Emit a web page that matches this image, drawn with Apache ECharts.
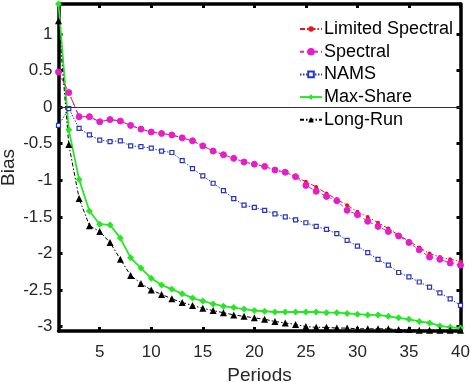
<!DOCTYPE html>
<html><head><meta charset="utf-8">
<script src="https://cdn.jsdelivr.net/npm/echarts@6/dist/echarts.min.js"></script>
<style>html,body{margin:0;padding:0;background:#fff}#c{width:471px;height:382px}</style>
</head><body><div id="c"></div>
<script>
const periods = Array.from({length: 40}, (_, i) => i + 1);
const xTicks = [5, 10, 15, 20, 25, 30, 35, 40];
const yTicks = [-3, -2.5, -2, -1.5, -1, -0.5, 0, 0.5, 1];
const seriesNames = ['Limited Spectral', 'Spectral', 'NAMS', 'Max-Share', 'Long-Run'];

const limitedSpectral = [0.48,0.20,-0.13,-0.13,-0.20,-0.17,-0.19,-0.25,-0.30,-0.34,
  -0.36,-0.38,-0.42,-0.46,-0.53,-0.60,-0.65,-0.70,-0.75,-0.78,
  -0.81,-0.86,-0.89,-0.95,-1.02,-1.09,-1.18,-1.26,-1.34,-1.43,
  -1.50,-1.58,-1.66,-1.75,-1.83,-1.92,-2.00,-2.05,-2.08,-2.11];
const spectral = [0.48,0.20,-0.13,-0.13,-0.20,-0.17,-0.19,-0.25,-0.30,-0.34,
  -0.36,-0.38,-0.42,-0.46,-0.53,-0.60,-0.65,-0.70,-0.75,-0.78,
  -0.81,-0.86,-0.89,-0.95,-1.07,-1.15,-1.22,-1.28,-1.41,-1.47,
  -1.56,-1.63,-1.70,-1.76,-1.85,-1.95,-2.05,-2.08,-2.13,-2.16];
const nams = [-0.25,-0.02,-0.29,-0.38,-0.45,-0.47,-0.46,-0.53,-0.54,-0.56,
  -0.60,-0.62,-0.73,-0.84,-0.94,-1.04,-1.14,-1.25,-1.34,-1.37,
  -1.41,-1.46,-1.50,-1.54,-1.58,-1.63,-1.67,-1.73,-1.82,-1.90,
  -1.99,-2.08,-2.16,-2.26,-2.32,-2.39,-2.46,-2.54,-2.62,-2.71];
const maxShare = [1.41,-0.31,-0.99,-1.42,-1.60,-1.61,-1.79,-2.06,-2.20,-2.34,
  -2.43,-2.49,-2.55,-2.61,-2.65,-2.69,-2.72,-2.74,-2.76,-2.78,
  -2.79,-2.80,-2.80,-2.80,-2.80,-2.80,-2.81,-2.81,-2.82,-2.83,
  -2.84,-2.84,-2.86,-2.88,-2.90,-2.93,-2.95,-2.99,-3.01,-3.02];
const longRun = [1.18,-0.51,-1.25,-1.62,-1.70,-1.85,-2.08,-2.30,-2.41,-2.50,
  -2.56,-2.62,-2.67,-2.71,-2.75,-2.78,-2.81,-2.84,-2.86,-2.88,
  -2.90,-2.93,-2.95,-2.97,-3.00,-3.01,-3.01,-3.02,-3.02,-3.03,
  -3.03,-3.03,-3.03,-3.04,-3.04,-3.05,-3.05,-3.05,-3.05,-3.05];

const pair = arr => periods.map((p, i) => [p, arr[i]]);
const FONT = 'Liberation Sans';
const TXT = '#262626';
const X_MIN = 1, X_MAX = 40, Y_MIN = -3.06, Y_MAX = 1.41;

function xAx(pos, labels) {
  return {
    type: 'value', position: pos, min: X_MIN, max: X_MAX,
    axisLine: {show: true, onZero: false, lineStyle: {color: '#000', width: 3.5}},
    axisTick: {show: true, inside: true, length: 4, customValues: xTicks, lineStyle: {color: '#000', width: 3}},
    axisLabel: {show: labels, customValues: xTicks, fontFamily: FONT, fontSize: 17, color: TXT, margin: 13},
    splitLine: {show: false},
    name: labels ? 'Periods' : '', nameLocation: 'middle', nameGap: 34,
    nameTextStyle: {fontFamily: FONT, fontSize: 19, color: TXT}
  };
}
function yAx(pos, labels) {
  return {
    type: 'value', position: pos, min: Y_MIN, max: Y_MAX,
    axisLine: {show: true, onZero: false, lineStyle: {color: '#000', width: 3.5}},
    axisTick: {show: true, inside: true, length: 4, customValues: yTicks, lineStyle: {color: '#000', width: 3}},
    axisLabel: {show: labels, customValues: yTicks, fontFamily: FONT, fontSize: 17, color: TXT, margin: 6},
    splitLine: {show: false},
    name: labels ? 'Bias' : '', nameLocation: 'middle', nameGap: 40, nameRotate: 90,
    nameMoveOverlap: false,
    nameTextStyle: {fontFamily: FONT, fontSize: 19, color: TXT}
  };
}

const chart = echarts.init(document.getElementById('c'), null, {renderer: 'canvas'});
chart.setOption({
  animation: false,
  backgroundColor: '#fff',
  grid: {left: 58.5, right: 10.5, top: 4, bottom: 51, containLabel: false, outerBoundsMode: 'none'},
  xAxis: [xAx('bottom', true), xAx('top', false)],
  yAxis: [yAx('left', true), yAx('right', false)],
  legend: {
    orient: 'vertical', left: 294, top: 15,
    itemWidth: 22, itemHeight: 7, itemGap: 4.7,
    textStyle: {fontFamily: FONT, fontSize: 18, color: '#000', lineHeight: 18, padding: [0, 0, 0, -3]},
    data: seriesNames
  },
  series: [
    {
      name: seriesNames[0], type: 'line', data: pair(limitedSpectral), z: 3,
      symbol: 'circle', symbolSize: 4,
      lineStyle: {color: '#e8141e', width: 1, type: [5, 2, 1.5, 2]},
      itemStyle: {color: '#e8141e'},
      markLine: {
        silent: true, symbol: 'none', label: {show: false},
        lineStyle: {color: '#333', width: 1, type: 'solid'},
        data: [{yAxis: 0}]
      }
    },
    {
      name: seriesNames[1], type: 'line', data: pair(spectral), z: 4,
      symbol: 'circle', symbolSize: 6,
      lineStyle: {color: '#e41ec8', width: 1, type: [4, 3]},
      itemStyle: {color: '#e41ec8', borderColor: '#e41ec8', borderWidth: 1}
    },
    {
      name: seriesNames[2], type: 'line', data: pair(nams), z: 3,
      symbol: 'rect', symbolSize: 4,
      lineStyle: {color: '#2535c0', width: 1, type: [1.5, 1.5]},
      itemStyle: {color: '#ffffff', borderColor: '#2535c0', borderWidth: 1.2}
    },
    {
      name: seriesNames[3], type: 'line', data: pair(maxShare), z: 3,
      symbol: 'diamond', symbolSize: 7,
      lineStyle: {color: '#26e626', width: 1.8, type: 'solid'},
      itemStyle: {color: '#26e626'}
    },
    {
      name: seriesNames[4], type: 'line', data: pair(longRun), z: 3,
      symbol: 'triangle', symbolSize: 7,
      lineStyle: {color: '#000', width: 1, type: [4, 2, 1.5, 2]},
      itemStyle: {color: '#000'}
    }
  ]
});
</script>
</body></html>
